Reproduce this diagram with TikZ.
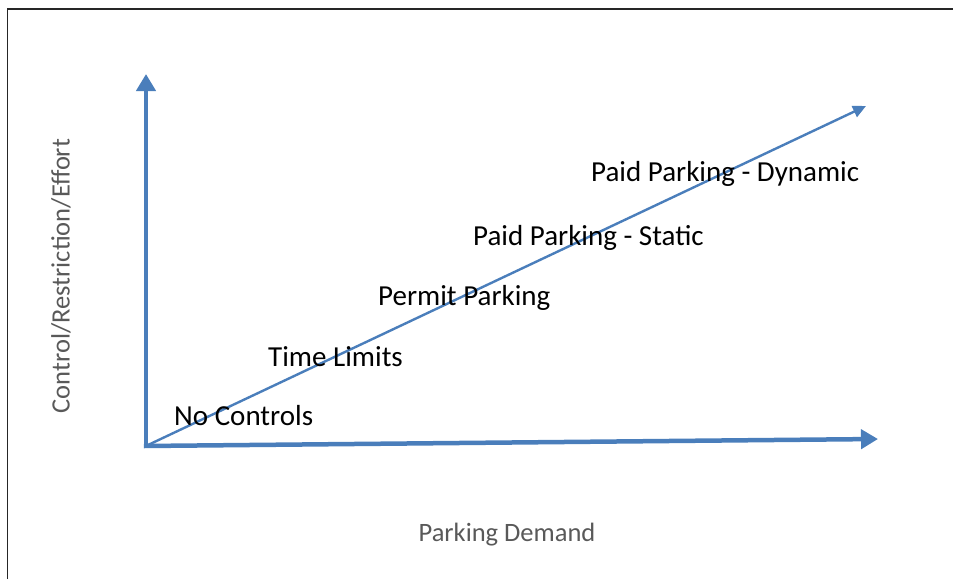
\documentclass[tikz,border=0pt]{standalone}
\usepackage{fontspec}
\setmainfont{Carlito}
\usetikzlibrary{arrows.meta}
\definecolor{axisblue}{HTML}{4A7EBB}
\definecolor{labelgray}{HTML}{595959}
\tikzset{
  axisarrow/.style={draw=axisblue, line width=4.5pt, -{Triangle[length=17pt,width=19pt]}},
  trendarrow/.style={draw=axisblue, line width=2.4pt, -{Triangle[length=13pt,width=12pt]}},
  stage/.style={anchor=base west, inner sep=0pt, font=\fontsize{29}{34}\selectfont, text=black},
  axislabel/.style={inner sep=0pt, font=\fontsize{26.5}{30}\selectfont, text=labelgray},
}
\begin{document}
\begin{tikzpicture}[x=1pt, y=-1pt]
  \useasboundingbox (0,0) rectangle (953,579);
  % partial frame
  \draw[line width=1.6pt, black!85] (7.5,579) -- (7.5,9) -- (953,9);

  % axes
  \coordinate (origin) at (146,446);
  \coordinate (ytip) at (146,74);
  \coordinate (xtip) at (878,439);
  \coordinate (dtip) at (866,106);
  \coordinate (dstart) at (148,445);
  \draw[axisarrow] (origin) -- (ytip);
  \draw[axisarrow] ([xshift=-2.2pt]origin) -- (xtip);
  \draw[trendarrow] (dstart) -- (dtip);

  % stage labels
  \node[stage] (nocontrols) at (174,425) {No Controls};
  \node[stage] (timelimits) at (268,366) {Time Limits};
  \node[stage] (permit) at (378,305) {Permit Parking};
  \node[stage] (static) at (473,245) {Paid Parking - Static};
  \node[stage] (dynamic) at (591,181) {Paid Parking - Dynamic};

  % axis titles
  \node[axislabel, rotate=90] (ylabel) at (61,276) {Control/Restriction/Effort};
  \node[axislabel] (xlabel) at (507,535) {Parking Demand};
\end{tikzpicture}
\end{document}
